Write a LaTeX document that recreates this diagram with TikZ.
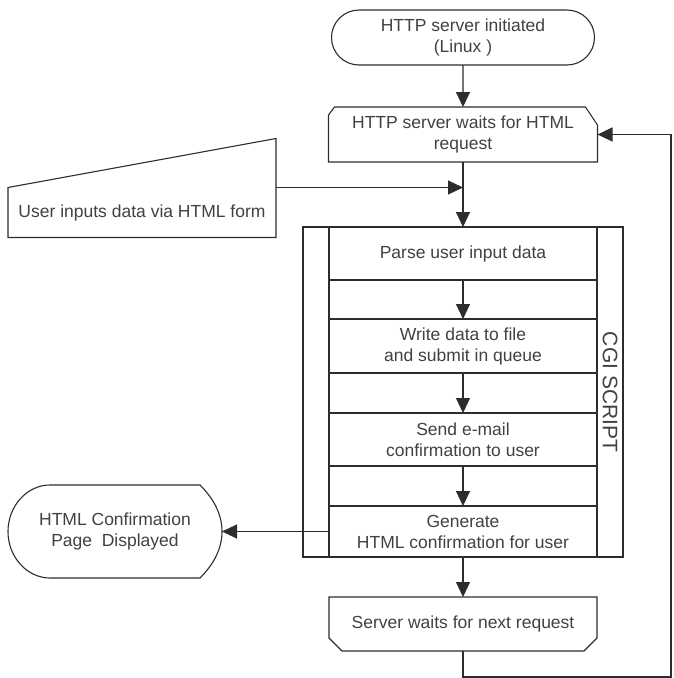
\documentclass[tikz,border=0pt]{standalone}
\usepackage{fontspec}
\setmainfont{Liberation Sans}
\usetikzlibrary{arrows.meta,shapes.misc}

\definecolor{fcline}{RGB}{45,45,45}
\definecolor{fctext}{RGB}{65,65,65}

\begin{document}
\begin{tikzpicture}[
  x=1pt,
  y=-1pt,
  every node/.style={inner sep=0pt, outer sep=0pt},
  label/.style={font=\fontsize{17.5}{21}\selectfont, text=fctext, align=center},
  outline/.style={draw=fcline, line width=1.1pt, line join=miter},
  stepbox/.style={label, outline, minimum width=268pt},
  termbox/.style={label, outline, rounded rectangle, minimum width=263pt, minimum height=55pt},
  flow/.style={draw=fcline, line width=1.1pt, -{Triangle[length=15pt,width=14pt]}}
]

  \path[use as bounding box] (0,0) rectangle (674,678);

  % Server start
  \node[termbox] (start) at (463,37.5) {HTTP server initiated\\(Linux )};

  % Waiting for a request
  \node[label, minimum width=269pt, minimum height=55pt] (wait) at (463,134.5)
    {HTTP server waits for HTML\\request};
  \draw[outline] ([yshift=-8pt]wait.north west) -- ([xshift=6pt]wait.north west)
    -- ([xshift=-12pt]wait.north east) -- ([yshift=-18pt]wait.north east)
    -- (wait.south east) -- (wait.south west) -- cycle;

  % Manual input
  \node[label, minimum width=268pt, minimum height=50pt] (input) at (142,212.5)
    {User inputs data via HTML form};
  \draw[outline] (input.south west) -- (input.north west)
    -- ([yshift=49pt]input.north east) -- (input.south east) -- cycle;

  % CGI script block
  \node[outline, minimum width=320pt, minimum height=330pt] (cgi) at (463,392) {};
  \node[stepbox, minimum height=53pt] (parse) at (463,253.5) {Parse user input data};
  \node[stepbox, minimum height=54pt] (write) at (463,346) {Write data to file\\and submit in queue};
  \node[stepbox, minimum height=53pt] (send) at (463,439.5) {Send e-mail\\confirmation to user};
  \node[stepbox, minimum height=51pt] (gen) at (463,531.5) {Generate\\HTML confirmation for user};
  \draw[outline] (parse.north west) -- (gen.south west);
  \draw[outline] (parse.north east) -- (gen.south east);
  \node[label, font=\fontsize{21}{24}\selectfont, rotate=-90] (cgilabel) at (610,392) {CGI SCRIPT};

  % Display
  \node[label, minimum width=214pt, minimum height=93pt] (shown) at (115,531.5)
    {HTML Confirmation\\Page~ Displayed};
  \draw[outline] ([xshift=42pt]shown.south west)
    .. controls ([xshift=19pt]shown.south west) and ([yshift=-25.5pt]shown.west) .. (shown.west)
    .. controls ([yshift=25.5pt]shown.west) and ([xshift=19pt]shown.north west) .. ([xshift=42pt]shown.north west)
    -- ([xshift=-22pt]shown.north east)
    .. controls ([xshift=-8pt,yshift=-14pt]shown.north east) and ([yshift=17pt]shown.east) .. (shown.east)
    .. controls ([yshift=-17pt]shown.east) and ([xshift=-8pt,yshift=14pt]shown.south east) .. ([xshift=-22pt]shown.south east)
    -- cycle;

  % Next request
  \node[label, minimum width=268pt, minimum height=54pt] (next) at (463,624)
    {Server waits for next request};
  \draw[outline] (next.north west) -- (next.north east)
    -- ([yshift=13pt]next.south east) -- ([xshift=-13pt]next.south east)
    -- ([xshift=13pt]next.south west) -- ([yshift=13pt]next.south west) -- cycle;

  % Connectors
  \coordinate (merge) at (wait.south |- input.north east);
  \coordinate (loop) at (671,677);
  \draw[flow] (start) -- (wait);
  \draw[flow] (wait) -- (parse);
  \draw[flow] (input.north east) -- (merge);
  \draw[flow] (parse) -- (write);
  \draw[flow] (write) -- (send);
  \draw[flow] (send) -- (gen);
  \draw[flow] (gen) -- (next);
  \draw[flow] (gen.west) -- (shown.east);
  \draw[flow] (next.south) |- (loop) |- (wait.east);

\end{tikzpicture}
\end{document}
